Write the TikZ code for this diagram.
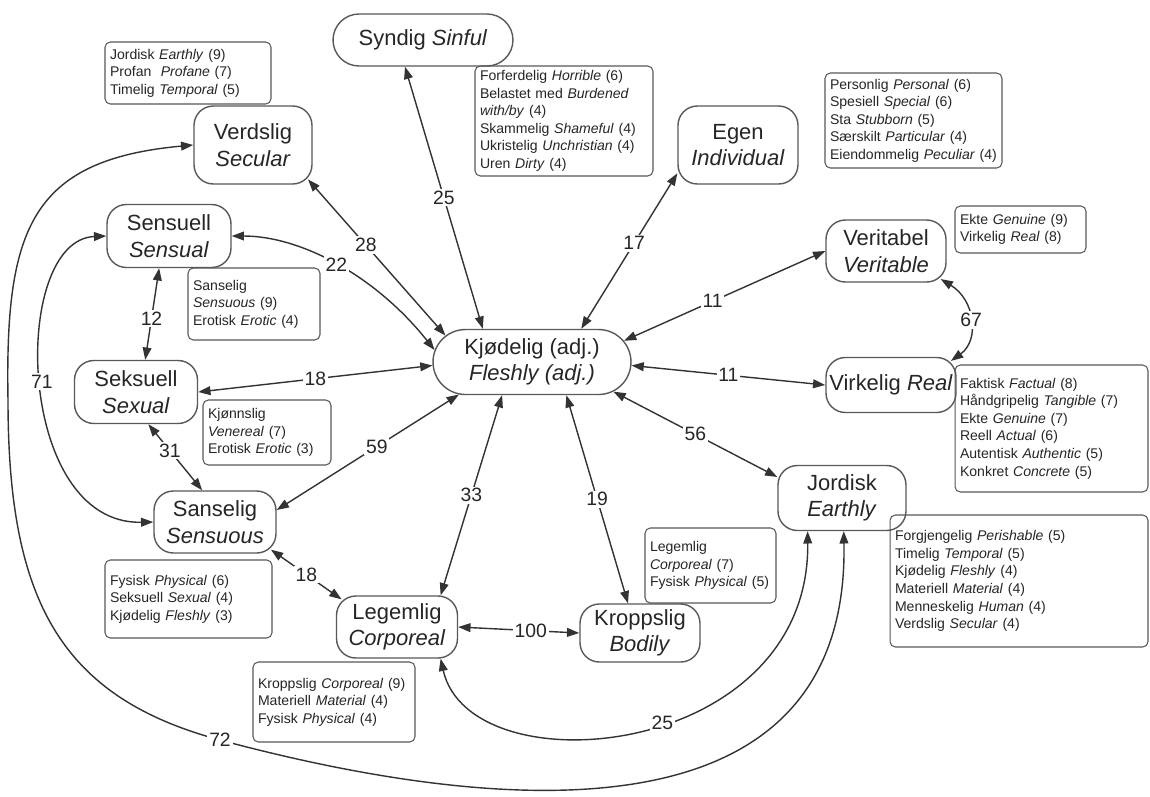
\documentclass[tikz,border=0pt]{standalone}
\usepackage{fontspec}
\setmainfont{Liberation Sans}
\usetikzlibrary{arrows.meta,shapes.misc}
\newcommand\bl[1]{\mbox{#1}}
\begin{document}
\begin{tikzpicture}[x=0.02cm,y=-0.02cm,
  mainnode/.style={draw=black!65, line width=0.8pt, rounded corners=11pt, align=center, inner sep=0pt, font=\fontsize{12.5}{15}\selectfont, text=black!85},
  stadium/.style={draw=black!65, line width=0.8pt, rounded rectangle, align=center, inner sep=0pt, font=\fontsize{12.5}{15}\selectfont, text=black!85},
  infobox/.style={draw=black!65, line width=0.6pt, rounded corners=3pt, align=left, inner xsep=0.1cm, inner ysep=0pt, font=\fontsize{8}{10}\selectfont, text=black!85},
  link/.style={draw=black!80, line width=0.8pt, arrows={Triangle[length=7pt,width=5pt]-Triangle[length=7pt,width=5pt]}},
  lab/.style={fill=white, inner sep=1pt, font=\fontsize{11}{13}\selectfont, text=black!85}]
\useasboundingbox (0,0) rectangle (1150,796);
\fill[white] (0,0) rectangle (1150,796);

% main nodes
\node[stadium, minimum width=3.6cm, minimum height=1.04cm] (syn) at (423,40) {Syndig \textit{Sinful}};
\node[mainnode, minimum width=2.36cm, minimum height=1.56cm] (ver) at (253,145) {Verdslig\\\textit{Secular}};
\node[mainnode, minimum width=2.4cm, minimum height=1.56cm] (egen) at (738,145) {Egen\\\textit{Individual}};
\node[mainnode, minimum width=2.48cm, minimum height=1.26cm] (sens) at (169,236) {Sensuell\\\textit{Sensual}};
\node[mainnode, minimum width=2.4cm, minimum height=1.24cm] (veri) at (886,251) {Veritabel\\\textit{Veritable}};
\node[stadium, minimum width=3.96cm, minimum height=1.3cm] (kj) at (532,362) {Kjødelig (adj.)\\\textit{Fleshly (adj.)}};
\node[mainnode, minimum width=2.46cm, minimum height=1.26cm] (seks) at (136,392) {Seksuell\\\textit{Sexual}};
\node[mainnode, minimum width=2.6cm, minimum height=1.1cm] (virk) at (891,385) {Virkelig \textit{Real}};
\node[mainnode, minimum width=2.56cm, minimum height=1.3cm] (jord) at (842,498) {Jordisk\\\textit{Earthly}};
\node[mainnode, minimum width=2.44cm, minimum height=1.24cm] (sans) at (215,522) {Sanselig\\\textit{Sensuous}};
\node[mainnode, minimum width=2.42cm, minimum height=1.24cm] (leg) at (397,627) {Legemlig\\\textit{Corporeal}};
\node[mainnode, minimum width=2.4cm, minimum height=1.16cm] (kro) at (640,633) {Kroppslig\\\textit{Bodily}};

% info boxes
\node[infobox, minimum width=3.32cm, minimum height=1.24cm, text width=3.12cm] (bver) at (188,73)
 {\bl{Jordisk \textit{Earthly} (9)}\\\bl{Profan\ \ \textit{Profane} (7)}\\\bl{Timelig \textit{Temporal} (5)}};
\node[infobox, minimum width=3.56cm, minimum height=2.2cm, text width=3.36cm] (bsyn) at (564,121)
 {\bl{Forferdelig \textit{Horrible} (6)}\\\bl{Belastet med \textit{Burdened}}\\\bl{\textit{with/by} (4)}\\\bl{Skammelig \textit{Shameful} (4)}\\\bl{Ukristelig \textit{Unchristian} (4)}\\\bl{Uren \textit{Dirty} (4)}};
\node[infobox, minimum width=3.54cm, minimum height=1.9cm, text width=3.34cm] (begen) at (913.5,120.5)
 {\bl{Personlig \textit{Personal} (6)}\\\bl{Spesiell \textit{Special} (6)}\\\bl{Sta \textit{Stubborn} (5)}\\\bl{Særskilt \textit{Particular} (4)}\\\bl{Eiendommelig \textit{Peculiar} (4)}};
\node[infobox, minimum width=2.62cm, minimum height=0.94cm, text width=2.42cm] (bveri) at (1020.5,229.5)
 {\bl{Ekte \textit{Genuine} (9)}\\\bl{Virkelig \textit{Real} (8)}};
\node[infobox, minimum width=2.64cm, minimum height=1.44cm, text width=2.44cm] (bsens) at (254,304)
 {\bl{Sanselig}\\\bl{\textit{Sensuous} (9)}\\\bl{Erotisk \textit{Erotic} (4)}};
\node[infobox, minimum width=2.56cm, minimum height=1.3cm, text width=2.36cm] (bseks) at (267,432.5)
 {\bl{Kjønnslig}\\\bl{\textit{Venereal} (7)}\\\bl{Erotisk \textit{Erotic} (3)}};
\node[infobox, minimum width=3.86cm, minimum height=2.54cm, text width=3.66cm] (bvirk) at (1051.5,428.5)
 {\bl{Faktisk \textit{Factual} (8)}\\\bl{Håndgripelig \textit{Tangible} (7)}\\\bl{Ekte \textit{Genuine} (7)}\\\bl{Reell \textit{Actual} (6)}\\\bl{Autentisk \textit{Authentic} (5)}\\\bl{Konkret \textit{Concrete} (5)}};
\node[infobox, minimum width=5.16cm, minimum height=2.64cm, text width=4.96cm] (bjord) at (1019,581)
 {\bl{Forgjengelig \textit{Perishable} (5)}\\\bl{Timelig \textit{Temporal} (5)}\\\bl{Kjødelig \textit{Fleshly} (4)}\\\bl{Materiell \textit{Material} (4)}\\\bl{Menneskelig \textit{Human} (4)}\\\bl{Verdslig \textit{Secular} (4)}};
\node[infobox, minimum width=3.34cm, minimum height=1.56cm, text width=3.14cm] (bsans) at (188.5,599)
 {\bl{Fysisk \textit{Physical} (6)}\\\bl{Seksuell \textit{Sexual} (4)}\\\bl{Kjødelig \textit{Fleshly} (3)}};
\node[infobox, minimum width=3.24cm, minimum height=1.6cm, text width=3.04cm] (bleg) at (334,702)
 {\bl{Kroppslig \textit{Corporeal} (9)}\\\bl{Materiell \textit{Material} (4)}\\\bl{Fysisk \textit{Physical} (4)}};
\node[infobox, minimum width=2.62cm, minimum height=1.5cm, text width=2.42cm] (bkro) at (710.5,565.5)
 {\bl{Legemlig}\\\bl{\textit{Corporeal} (7)}\\\bl{Fysisk \textit{Physical} (5)}};

% connectors
\draw[link, shorten <=-4pt] (ver.south east) -- node[lab,pos=0.4]{28} (kj.163);
\draw[link] (syn.-124) -- node[lab,pos=0.5]{25} (kj.146);
\draw[link] (kj.34) -- node[lab,pos=0.55]{17} (egen.-155);
\draw[link] (sens.east) .. controls (300,236) and (375,275) .. (kj.173) node[lab,pos=0.5]{22};
\draw[link] (kj.13) -- node[lab,pos=0.44]{11} (veri.west);
\draw[link] (seks.east) -- node[lab,pos=0.5]{18} (kj.182);
\draw[link] (kj.-2) -- node[lab,pos=0.5]{11} (virk.west);
\draw[link] (kj.-20) -- node[lab,pos=0.5]{56} (jord.162);
\draw[link] (sans.11) -- node[lab,pos=0.55]{59} (kj.-156);
\draw[link] (leg.36) -- node[lab,pos=0.5]{33} (kj.-132);
\draw[link] (kro.112) -- node[lab,pos=0.5]{19} (kj.-44);
\draw[link] (sens.-107) -- node[lab,pos=0.55]{12} (seks.74);
\draw[link] (seks.-69) -- node[lab,pos=0.4]{31} (sans.112);
\draw[link] (sens.west) .. controls (10,240) and (15,525) .. (sans.west) node[lab,pos=0.5]{71};
\draw[link, shorten <=-4pt, shorten >=-4pt] (veri.south east) .. controls (975,300) and (980,340) .. (virk.north east) node[lab,pos=0.5]{67};
\draw[link, shorten <=-4pt, shorten >=-4pt] (sans.south east) -- node[lab,pos=0.5]{18} (leg.north west);
\draw[link] (leg.east) -- node[lab,pos=0.6]{100} (kro.west);
\draw[link] (leg.-36) .. controls (470,790) and (810,760) .. (jord.-136) node[lab,pos=0.55]{25};
\coordinate (w72a) at (8,400);
\coordinate (w72) at (220,740);
\draw[link] (ver.west) .. controls (30,160) and (5,230) .. (w72a) .. controls (8,600) and (60,697) .. (w72) .. controls (440,799) and (850,870) .. (jord.-87);
\node[lab] (l72) at (w72) {72};
\end{tikzpicture}
\end{document}
